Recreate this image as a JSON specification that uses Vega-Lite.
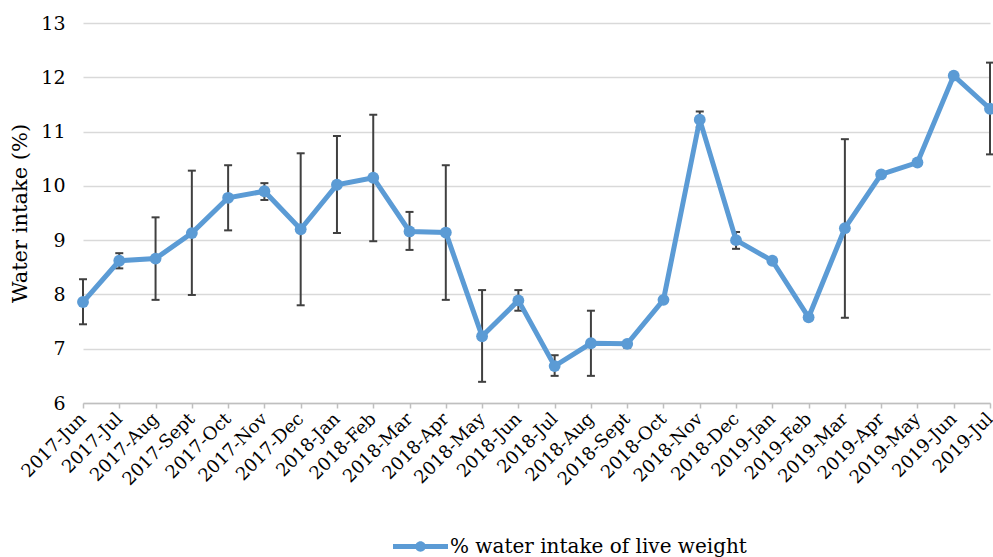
{
  "$schema": "https://vega.github.io/schema/vega-lite/v6.json",
  "width": 907,
  "height": 380,
  "autosize": "none",
  "padding": {"left": 83, "top": 23, "right": 3, "bottom": 154},
  "background": "white",
  "config": {
    "font": "DejaVu Serif",
    "axis": {"labelFont": "DejaVu Serif", "titleFont": "DejaVu Serif"},
    "legend": {"labelFont": "DejaVu Serif"},
    "view": {"stroke": null}
  },
  "data": {
    "values": [
      {"month": "2017-Jun", "value": 7.86, "lo": 7.45, "hi": 8.28, "series": "% water intake of live weight"},
      {"month": "2017-Jul", "value": 8.62, "lo": 8.48, "hi": 8.76, "series": "% water intake of live weight"},
      {"month": "2017-Aug", "value": 8.66, "lo": 7.9, "hi": 9.42, "series": "% water intake of live weight"},
      {"month": "2017-Sept", "value": 9.13, "lo": 7.99, "hi": 10.28, "series": "% water intake of live weight"},
      {"month": "2017-Oct", "value": 9.78, "lo": 9.18, "hi": 10.38, "series": "% water intake of live weight"},
      {"month": "2017-Nov", "value": 9.9, "lo": 9.74, "hi": 10.05, "series": "% water intake of live weight"},
      {"month": "2017-Dec", "value": 9.2, "lo": 7.8, "hi": 10.6, "series": "% water intake of live weight"},
      {"month": "2018-Jan", "value": 10.02, "lo": 9.13, "hi": 10.92, "series": "% water intake of live weight"},
      {"month": "2018-Feb", "value": 10.15, "lo": 8.98, "hi": 11.31, "series": "% water intake of live weight"},
      {"month": "2018-Mar", "value": 9.16, "lo": 8.82, "hi": 9.52, "series": "% water intake of live weight"},
      {"month": "2018-Apr", "value": 9.14, "lo": 7.9, "hi": 10.38, "series": "% water intake of live weight"},
      {"month": "2018-May", "value": 7.23, "lo": 6.39, "hi": 8.08, "series": "% water intake of live weight"},
      {"month": "2018-Jun", "value": 7.89, "lo": 7.7, "hi": 8.08, "series": "% water intake of live weight"},
      {"month": "2018-Jul", "value": 6.68, "lo": 6.5, "hi": 6.88, "series": "% water intake of live weight"},
      {"month": "2018-Aug", "value": 7.1, "lo": 6.5, "hi": 7.7, "series": "% water intake of live weight"},
      {"month": "2018-Sept", "value": 7.09, "lo": 7.02, "hi": 7.12, "series": "% water intake of live weight"},
      {"month": "2018-Oct", "value": 7.9, "lo": null, "hi": null, "series": "% water intake of live weight"},
      {"month": "2018-Nov", "value": 11.22, "lo": 11.08, "hi": 11.37, "series": "% water intake of live weight"},
      {"month": "2018-Dec", "value": 9.0, "lo": 8.84, "hi": 9.15, "series": "% water intake of live weight"},
      {"month": "2019-Jan", "value": 8.62, "lo": null, "hi": null, "series": "% water intake of live weight"},
      {"month": "2019-Feb", "value": 7.58, "lo": null, "hi": null, "series": "% water intake of live weight"},
      {"month": "2019-Mar", "value": 9.22, "lo": 7.57, "hi": 10.86, "series": "% water intake of live weight"},
      {"month": "2019-Apr", "value": 10.21, "lo": null, "hi": null, "series": "% water intake of live weight"},
      {"month": "2019-May", "value": 10.43, "lo": null, "hi": null, "series": "% water intake of live weight"},
      {"month": "2019-Jun", "value": 12.03, "lo": null, "hi": null, "series": "% water intake of live weight"},
      {"month": "2019-Jul", "value": 11.42, "lo": 10.58, "hi": 12.27, "series": "% water intake of live weight"}
    ]
  },
  "encoding": {
    "x": {
      "field": "month",
      "type": "ordinal",
      "sort": null,
      "scale": {
        "type": "point",
        "padding": 0,
        "domain": ["2017-Jun", "2017-Jul", "2017-Aug", "2017-Sept", "2017-Oct", "2017-Nov", "2017-Dec", "2018-Jan", "2018-Feb", "2018-Mar", "2018-Apr", "2018-May", "2018-Jun", "2018-Jul", "2018-Aug", "2018-Sept", "2018-Oct", "2018-Nov", "2018-Dec", "2019-Jan", "2019-Feb", "2019-Mar", "2019-Apr", "2019-May", "2019-Jun", "2019-Jul"]
      },
      "axis": {
        "title": null,
        "labelAngle": -45,
        "labelAlign": "right",
        "labelBaseline": "middle",
        "labelFontSize": 18,
        "labelColor": "black",
        "labelPadding": 8,
        "labelOverlap": false,
        "labelBound": false,
        "labelFlush": false,
        "domainColor": "#bfbfbf",
        "domainWidth": 1.5,
        "tickColor": "#bfbfbf",
        "tickWidth": 1.5,
        "tickSize": 5,
        "grid": false
      }
    }
  },
  "layer": [
    {
      "transform": [{"filter": "datum.lo != null"}],
      "mark": {"type": "rule", "color": "#404040", "strokeWidth": 2},
      "encoding": {
        "y": {"field": "lo", "type": "quantitative"},
        "y2": {"field": "hi"}
      }
    },
    {
      "transform": [{"filter": "datum.lo != null"}],
      "mark": {"type": "tick", "color": "#404040", "thickness": 2, "size": 8, "opacity": 1},
      "encoding": {
        "y": {"field": "lo", "type": "quantitative"}
      }
    },
    {
      "transform": [{"filter": "datum.lo != null"}],
      "mark": {"type": "tick", "color": "#404040", "thickness": 2, "size": 8, "opacity": 1},
      "encoding": {
        "y": {"field": "hi", "type": "quantitative"}
      }
    },
    {
      "mark": {"type": "line", "strokeWidth": 5, "point": {"size": 140, "filled": true, "opacity": 1}},
      "encoding": {
        "y": {
          "field": "value",
          "type": "quantitative",
          "scale": {"domain": [6, 13], "nice": false, "zero": false},
          "axis": {
            "title": "Water intake (%)",
            "titleFontSize": 21,
            "titleFontWeight": "normal",
            "titleColor": "black",
            "titlePadding": 10,
            "values": [6, 7, 8, 9, 10, 11, 12, 13],
            "format": "d",
            "labelFontSize": 19,
            "labelColor": "black",
            "labelPadding": 18,
            "domain": false,
            "ticks": false,
            "gridColor": "#d9d9d9",
            "gridWidth": 1.5
          }
        },
        "color": {
          "field": "series",
          "type": "nominal",
          "scale": {"range": ["#5b9bd5"]},
          "legend": {
            "title": null,
            "orient": "none",
            "legendX": 310,
            "legendY": 496,
            "labelFontSize": 20,
            "labelLimit": 500,
            "labelColor": "black",
            "symbolType": "M-1,-0.09H1V0.09H-1Z M0.19,0 A0.19,0.19 0 1,1 -0.19,0 A0.19,0.19 0 1,1 0.19,0 Z",
            "symbolSize": 3025,
            "symbolStrokeWidth": 0,
            "symbolFillColor": "#5b9bd5",
            "labelOffset": 2
          }
        }
      }
    }
  ]
}
